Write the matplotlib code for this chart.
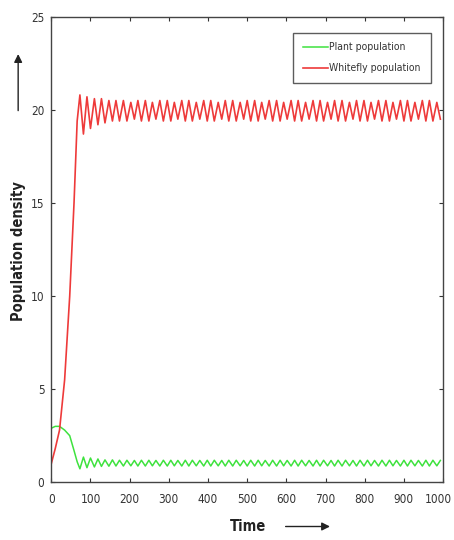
import matplotlib
matplotlib.use("Agg")
import matplotlib.pyplot as plt
import matplotlib.transforms as mtransforms

plt.rcParams['font.family'] = ['DejaVu Sans']
plt.rcParams['font.stretch'] = 'condensed'

# --- data ---
# start-up part of both curves
rise_time = [0, 10, 21, 34, 47, 58, 66]
whitefly_rise = [1.0, 1.8, 2.8, 5.5, 10.0, 15.0, 19.4]
plant_rise = [2.9, 3.0, 3.0, 2.8, 2.5, 1.7, 1.1]

# oscillation peaks and troughs (time of each turning point)
peak_time = [73, 91, 110, 128, 147, 165, 184, 203, 221, 240, 258, 277, 296,
             314, 333, 351, 370, 389, 407, 426, 444, 463, 482, 500, 519, 537,
             556, 575, 593, 612, 630, 649, 668, 686, 705, 723, 742, 761, 779,
             798, 816, 835, 854, 872, 891, 909, 928, 947, 965, 984]
trough_time = [82, 100, 119, 137, 156, 174, 193, 212, 230, 249, 267, 286, 305,
               323, 342, 360, 379, 398, 416, 435, 453, 472, 491, 509, 528, 546,
               565, 584, 602, 621, 639, 658, 677, 695, 714, 732, 751, 770, 788,
               807, 825, 844, 863, 881, 900, 918, 937, 956, 974, 993]

whitefly_peak = [20.8, 20.7, 20.6, 20.6, 20.5, 20.5, 20.5, 20.4, 20.5, 20.5,
                 20.4, 20.5, 20.5, 20.4, 20.5, 20.5, 20.4, 20.5, 20.5, 20.4,
                 20.5, 20.5, 20.4, 20.5, 20.5, 20.4, 20.5, 20.5, 20.4, 20.5,
                 20.5, 20.4, 20.5, 20.5, 20.4, 20.5, 20.5, 20.4, 20.5, 20.5,
                 20.4, 20.5, 20.5, 20.4, 20.5, 20.5, 20.4, 20.5, 20.5, 20.4]
whitefly_trough = [18.7, 19.0, 19.2, 19.3, 19.4, 19.4, 19.4, 19.5, 19.4, 19.4,
                   19.5, 19.4, 19.4, 19.5, 19.4, 19.4, 19.5, 19.4, 19.4, 19.5,
                   19.4, 19.4, 19.5, 19.4, 19.4, 19.5, 19.4, 19.4, 19.5, 19.4,
                   19.4, 19.5, 19.4, 19.4, 19.5, 19.4, 19.4, 19.5, 19.4, 19.4,
                   19.5, 19.4, 19.4, 19.5, 19.4, 19.4, 19.5, 19.4, 19.4, 19.5]

# plant curve is out of phase: low where whitefly peaks
plant_low = [0.72, 0.78, 0.82, 0.85, 0.86, 0.87, 0.87, 0.88, 0.87, 0.87,
             0.88, 0.87, 0.87, 0.88, 0.87, 0.87, 0.88, 0.87, 0.87, 0.88,
             0.87, 0.87, 0.88, 0.87, 0.87, 0.88, 0.87, 0.87, 0.88, 0.87,
             0.87, 0.88, 0.87, 0.87, 0.88, 0.87, 0.87, 0.88, 0.87, 0.87,
             0.88, 0.87, 0.87, 0.88, 0.87, 0.87, 0.88, 0.87, 0.87, 0.88]
plant_high = [1.35, 1.3, 1.25, 1.2, 1.2, 1.18, 1.18, 1.17, 1.18, 1.18,
              1.17, 1.18, 1.18, 1.17, 1.18, 1.18, 1.17, 1.18, 1.18, 1.17,
              1.18, 1.18, 1.17, 1.18, 1.18, 1.17, 1.18, 1.18, 1.17, 1.18,
              1.18, 1.17, 1.18, 1.18, 1.17, 1.18, 1.18, 1.17, 1.18, 1.18,
              1.17, 1.18, 1.18, 1.17, 1.18, 1.18, 1.17, 1.18, 1.18, 1.17]

x_ticks = [0, 100, 200, 300, 400, 500, 600, 700, 800, 900, 1000]
y_ticks = [0, 5, 10, 15, 20, 25]


def zigzag(start_t, start_v, t_a, v_a, t_b, v_b):
    pts = sorted(zip(t_a, v_a)) + sorted(zip(t_b, v_b))
    pts.sort()
    return start_t + [p[0] for p in pts], start_v + [p[1] for p in pts]


def main():
    fig = plt.figure(figsize=(4.54, 5.4), dpi=100)
    ax = fig.add_axes([0.113, 0.107, 0.863, 0.862])

    t_w, v_w = zigzag(rise_time, whitefly_rise, peak_time, whitefly_peak,
                      trough_time, whitefly_trough)
    t_p, v_p = zigzag(rise_time, plant_rise, peak_time, plant_low,
                      trough_time, plant_high)

    ax.plot(t_p, v_p, color='#3ee23e', lw=1.1, label='Plant population')
    ax.plot(t_w, v_w, color='#ee3a3a', lw=1.2, label='Whitefly population')

    ax.set_xlim(0, 1000)
    ax.set_ylim(0, 25)
    ax.set_xticks(x_ticks)
    ax.set_yticks(y_ticks)
    ax.tick_params(direction='in', top=True, right=True, length=3,
                   labelsize=8.5, colors='#333333')
    ax.tick_params(axis='x', pad=8)
    ax.tick_params(axis='y', pad=5)
    for s in ax.spines.values():
        s.set_color('#444444')
        s.set_linewidth(1.0)

    # keep the last x label inside the picture
    last = ax.get_xticklabels()[-1]
    last.set_transform(last.get_transform() + mtransforms.ScaledTranslation(
        -5 / 100, 0, fig.dpi_scale_trans))

    leg = ax.legend(loc='upper right', bbox_to_anchor=(0.968, 0.966),
                    fontsize=7.5, frameon=True, fancybox=False,
                    handlelength=2.4, handletextpad=0.1, borderpad=0.95,
                    labelspacing=1.05, borderaxespad=0.0)
    leg.get_frame().set_edgecolor('#333333')
    leg.get_frame().set_linewidth(1.0)
    for txt in leg.get_texts():
        txt.set_color('#333333')

    fig.text(0.04, 0.535, 'Population density', rotation=90, ha='center',
             va='center', fontsize=10.5, fontweight='bold', color='#222222')
    fig.text(0.547, 0.025, 'Time', ha='center', va='center', fontsize=10.5,
             fontweight='bold', color='#222222')

    # the little arrows next to the axis titles
    fig.add_artist(matplotlib.patches.FancyArrowPatch(
        (0.04, 0.79), (0.04, 0.905), transform=fig.transFigure,
        arrowstyle='-|>', mutation_scale=12, lw=1.0, color='#222222'))
    fig.add_artist(matplotlib.patches.FancyArrowPatch(
        (0.623, 0.025), (0.733, 0.025), transform=fig.transFigure,
        arrowstyle='-|>', mutation_scale=12, lw=1.0, color='#222222'))

    fig.savefig('out.png', dpi=100)


if __name__ == "__main__":
    main()
